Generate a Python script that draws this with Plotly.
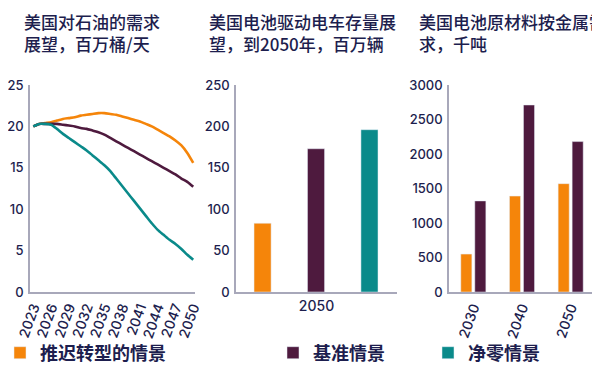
import plotly.graph_objects as go

# ---------------- data ----------------
years = list(range(2023, 2051))
oil_delayed = [20.0, 20.3, 20.4, 20.5, 20.7, 20.9, 21.0, 21.1, 21.3, 21.4, 21.5, 21.6, 21.6, 21.5,
               21.4, 21.2, 21.0, 20.8, 20.6, 20.3, 20.0, 19.6, 19.2, 18.8, 18.3, 17.7, 16.8, 15.6]
oil_base = [20.0, 20.3, 20.3, 20.3, 20.3, 20.2, 20.1, 20.0, 19.8, 19.7, 19.5, 19.3, 19.0, 18.6,
            18.2, 17.8, 17.4, 17.0, 16.6, 16.2, 15.8, 15.4, 15.0, 14.6, 14.2, 13.7, 13.3, 12.7]
oil_netzero = [20.0, 20.3, 20.3, 20.2, 19.7, 19.1, 18.6, 18.1, 17.6, 17.1, 16.5, 15.9, 15.3, 14.6,
               13.7, 12.8, 11.9, 11.0, 10.1, 9.2, 8.3, 7.5, 6.9, 6.3, 5.8, 5.2, 4.5, 3.9]
oil_ticks = [2023, 2026, 2029, 2032, 2035, 2038, 2041, 2044, 2047, 2050]

scenarios = ["推迟转型的情景", "基准情景", "净零情景"]

ev_year = ["2050"]
ev_stock = [83, 173, 196]

metal_years = ["2030", "2040", "2050"]
metal_delayed = [550, 1390, 1570]
metal_base = [1320, 2710, 2180]

titles = ["美国对石油的需求<br>展望，百万桶/天",
          "美国电池驱动电车存量展<br>望，到2050年，百万辆",
          "美国电池原材料按金属需<br>求，千吨"]

# ---------------- style ----------------
colors = ["#F5850A", "#4E1A3E", "#0A8A8A"]
navy = "#1D1E4E"
axis_col = "#A8A8BA"
# the page body has an 8px margin, so the figure is placed at (8, 8) in the window
OFF = 8
W, H = 600 - OFF, 370 - OFF
xnum_font = dict(family="Inter, Noto Sans CJK SC, sans-serif", size=14, color=navy, weight=500)
ynum_font = dict(family="Inter, Noto Sans CJK SC, sans-serif", size=13, color=navy, weight=500)
cjk = "Noto Sans CJK SC, sans-serif"

def px_x(p):
    return (p - OFF) / W

def px_y(p):
    return (H - (p - OFF)) / H

ydom = [px_y(292), px_y(85)]

fig = go.Figure()

# panel 1: lines
for name, vals, c in zip(scenarios, [oil_delayed, oil_base, oil_netzero], colors):
    fig.add_trace(go.Scatter(x=years, y=vals, mode="lines", name=name,
                             line=dict(color=c, width=2.6, shape="spline", smoothing=0.6),
                             xaxis="x", yaxis="y", showlegend=False))

# panel 2: EV stock bars (one bar per scenario)
ev_offsets = [-0.388, -0.056, 0.276]
legends = ["legend", "legend2", "legend3"]
for i, (name, c) in enumerate(zip(scenarios, colors)):
    fig.add_trace(go.Bar(x=ev_year, y=[ev_stock[i]], name=name, marker_color=c,
                         width=0.106, offset=ev_offsets[i],
                         xaxis="x2", yaxis="y2", showlegend=True, legend=legends[i]))

# panel 3: metals
for name, vals, c in zip(scenarios[:2], [metal_delayed, metal_base], colors[:2]):
    fig.add_trace(go.Bar(x=metal_years, y=vals, name=name, marker_color=c,
                         xaxis="x3", yaxis="y3", showlegend=False))

common_x = dict(showline=True, linecolor=axis_col, linewidth=1.5, showgrid=False,
                zeroline=False, ticks="", tickfont=xnum_font, automargin=False)
common_y = dict(showline=True, linecolor=axis_col, linewidth=1.5, showgrid=False,
                zeroline=False, ticks="", tickfont=ynum_font, domain=ydom,
                ticklabelstandoff=2, automargin=False)

fig.update_layout(
    width=W, height=H,
    margin=dict(l=0, r=0, t=0, b=0, autoexpand=False),
    paper_bgcolor="white", plot_bgcolor="white",
    barmode="group", bargap=0.425, bargroupgap=0.21,
    xaxis=dict(common_x, domain=[px_x(30), px_x(195)], range=[2022.44, 2050.3],
               tickvals=oil_ticks, tickangle=-70, anchor="y"),
    yaxis=dict(common_y, range=[0, 25], dtick=5, anchor="x"),
    xaxis2=dict(common_x, domain=[px_x(236), px_x(397)], range=[-0.5, 0.5],
                type="category", anchor="y2"),
    yaxis2=dict(common_y, range=[0, 250], dtick=50, anchor="x2"),
    xaxis3=dict(common_x, domain=[px_x(449), px_x(595)], type="category",
                tickangle=-70, anchor="y3"),
    yaxis3=dict(common_y, range=[0, 3000], dtick=500, anchor="x3"),
    showlegend=True,
)

leg_font = dict(family=cjk, size=18, color=navy, weight="bold")
for key, xp in zip(legends, [0, 273, 428]):
    fig.update_layout({key: dict(x=px_x(xp), y=px_y(353), xanchor="left", yanchor="middle",
                                 orientation="h", font=leg_font, bgcolor="rgba(0,0,0,0)",
                                 itemwidth=30, borderwidth=0)})

for t, xp in zip(titles, [22, 207, 417]):
    fig.add_annotation(text=t, x=px_x(xp), y=px_y(7), xref="paper", yref="paper",
                       xanchor="left", yanchor="top", align="left", showarrow=False,
                       font=dict(family=cjk, size=17, color=navy, weight=500))

fig.write_html("out.html")
